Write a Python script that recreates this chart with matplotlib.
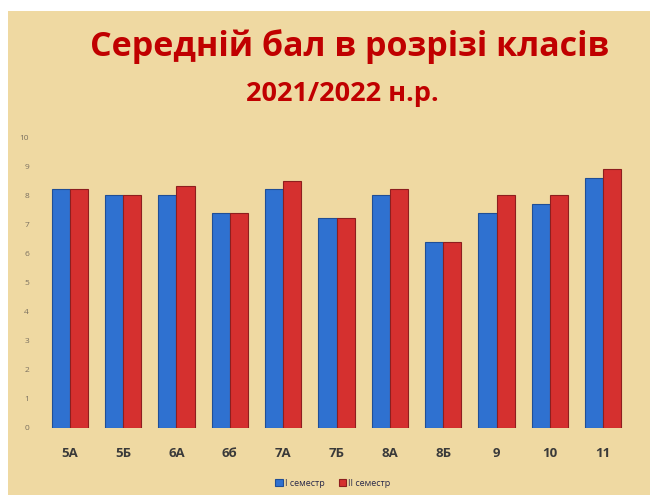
import numpy as np
import matplotlib.pyplot as plt
from matplotlib.patches import Rectangle

# дані з діаграми
classes = ['5А', '5Б', '6А', '6б', '7А', '7Б', '8А', '8Б', '9', '10', '11']
sem1 = [8.2, 8.0, 8.0, 7.4, 8.2, 7.2, 8.0, 6.4, 7.4, 7.7, 8.6]
sem2 = [8.2, 8.0, 8.3, 7.4, 8.5, 7.2, 8.2, 6.4, 8.0, 8.0, 8.9]
series_names = ['І семестр', 'ІІ семестр']

plt.rcParams['font.family'] = ['Open Sans', 'DejaVu Sans']

W, H = 657, 500
fig = plt.figure(figsize=(W / 100, H / 100), dpi=100, facecolor='white')

# пергаментний фон
fig.patches.append(Rectangle((8 / W, 5 / H), 642 / W, 484 / H, transform=fig.transFigure,
                             facecolor='#EFD9A2', edgecolor='none', zorder=0))

ax = fig.add_axes([43 / W, (H - 428) / H, 587 / W, 291 / H])
ax.set_facecolor('none')
ax.set_zorder(2)

x = np.arange(len(classes))
w = 0.34
ax.bar(x - w / 2, sem1, w, color='#2F71D0', edgecolor='#1F4E96', linewidth=0.8, label=series_names[0])
ax.bar(x + w / 2, sem2, w, color='#D5302F', edgecolor='#8E1E1E', linewidth=0.8, label=series_names[1])

ax.set_xlim(-0.5, len(classes) - 0.5)
ax.set_ylim(0, 10)
ax.set_yticks(range(0, 11))
ax.tick_params(axis='y', length=0, labelsize=6, labelcolor='#7A7060', pad=10)
ax.set_xticks(x)
ax.set_xticklabels(classes, fontsize=9.5, fontweight='bold', color='#3A3A3A')
ax.tick_params(axis='x', length=0, pad=14)
for s in ax.spines.values():
    s.set_visible(False)

fig.text(350 / W, 1 - 47 / H, 'Середній бал в розрізі класів', ha='center', va='center',
         fontsize=24.5, fontweight='bold', color='#C00000')
fig.text(342 / W, 1 - 94 / H, '2021/2022 н.р.', ha='center', va='center',
         fontsize=19.5, fontweight='bold', color='#C00000')

fig.legend(loc='center', bbox_to_anchor=(333 / W, 1 - 483 / H), ncol=2, frameon=False,
           fontsize=6.5, handlelength=0.8, handleheight=0.8, columnspacing=1.5,
           handletextpad=0.3, labelcolor='#2A2A4A')

fig.savefig('out.png', dpi=100, facecolor=fig.get_facecolor())
